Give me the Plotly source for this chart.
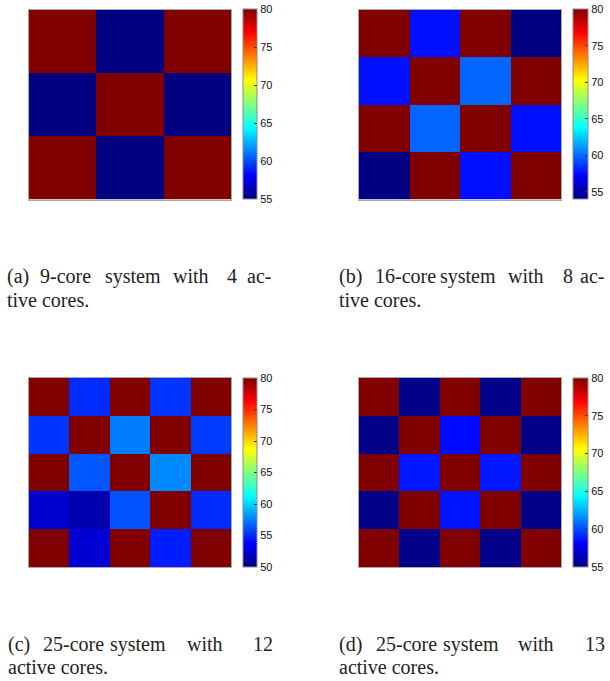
import plotly.graph_objects as go

W, H = 610, 681

# ---- data (temperature maps, rows listed top to bottom) ----
z_a = [[80, 55, 80],
       [55, 80, 55],
       [80, 55, 80]]
z_b = [[80, 57.6, 80, 54.0],
       [57.6, 80, 59.8, 80],
       [80, 59.8, 80, 57.6],
       [54.0, 80, 57.6, 80]]
z_c = [[80, 55.0, 80, 55.3, 80],
       [55.3, 80, 57.4, 80, 55.5],
       [80, 56.3, 80, 57.8, 80],
       [52.3, 51.4, 56.2, 80, 55.0],
       [80, 52.5, 80, 54.6, 80]]
z_d = [[80, 55.2, 80, 55.2, 80],
       [55.2, 80, 58.4, 80, 55.2],
       [80, 58.7, 80, 58.7, 80],
       [55.2, 80, 58.6, 80, 55.2],
       [80, 55.2, 80, 55.2, 80]]
ranges = [(55, 80), (53.95, 80), (50, 80), (55, 80)]
tick_sets = [[55, 60, 65, 70, 75, 80],
             [55, 60, 65, 70, 75, 80],
             [50, 55, 60, 65, 70, 75, 80],
             [55, 60, 65, 70, 75, 80]]

cap_line1 = [["(a)", "9-core", "system", "with", "4", "ac-"],
             ["(b)", "16-core", "system", "with", "8", "ac-"],
             ["(c)", "25-core", "system", "with", "12"],
             ["(d)", "25-core", "system", "with", "13"]]
cap_line2 = ["tive cores.", "tive cores.", "active cores.", "active cores."]

# ---- layout geometry (pixels) ----
jet = [[0.0, "#000080"], [0.125, "#0000ff"], [0.375, "#00ffff"],
       [0.625, "#ffff00"], [0.875, "#ff0000"], [1.0, "#800000"]]

panels = [  # heatmap x0,x1,y0,y1 ; colorbar x0, width
    dict(hx=(29, 231), hy=(9.5, 199.5), cbx=243, cbw=14),
    dict(hx=(359, 561), hy=(9.5, 199.5), cbx=573, cbw=15),
    dict(hx=(29, 231), hy=(378, 567), cbx=243, cbw=14),
    dict(hx=(359, 561), hy=(378, 567), cbx=573, cbw=15),
]
word_x = [[7, 40, 105, 173, 227, 247],
          [339, 375, 440, 508, 563, 580],
          [8, 43, 110, 187, 253],
          [339, 376, 443, 518, 585]]
line2_x = [7, 339, 8, 339]
line_y = [(276, 300), (276, 300), (644, 667), (644, 667)]

CAP_FONT = dict(family="Liberation Serif, serif", size=20, color="#222222")

fig = go.Figure()
zs = [z_a, z_b, z_c, z_d]
layout = {}
annotations = []
for i, (z, p) in enumerate(zip(zs, panels)):
    n = len(z)
    sfx = "" if i == 0 else str(i + 1)
    ca = "coloraxis" + sfx
    fig.add_trace(go.Heatmap(
        z=z, x=list(range(1, n + 1)), y=list(range(1, n + 1)),
        coloraxis=ca, xaxis="x" + sfx, yaxis="y" + sfx,
        xgap=0, ygap=0, hoverinfo="z"))
    x0, x1 = p["hx"]
    y0, y1 = p["hy"]
    axstyle = dict(showgrid=False, zeroline=False, showticklabels=False,
                   ticks="", showline=True, mirror=True,
                   linecolor="#a8a8a8", linewidth=1)
    layout["xaxis" + sfx] = dict(domain=[x0 / W, x1 / W],
                                 range=[0.5, n + 0.5], anchor="y" + sfx,
                                 **axstyle)
    layout["yaxis" + sfx] = dict(domain=[1 - y1 / H, 1 - y0 / H],
                                 range=[n + 0.5, 0.5], anchor="x" + sfx,
                                 **axstyle)
    zmin, zmax = ranges[i]
    layout[ca] = dict(
        cmin=zmin, cmax=zmax, colorscale=jet,
        colorbar=dict(
            x=p["cbx"] / W, xanchor="left", xpad=0,
            y=1 - y0 / H, yanchor="top", ypad=0,
            len=(y1 - y0) / H, lenmode="fraction",
            thickness=p["cbw"], outlinewidth=1, outlinecolor="#8c8c8c",
            tickvals=tick_sets[i], ticks="inside", ticklen=3,
            tickcolor="#333333", tickwidth=1,
            tickfont=dict(family="Liberation Sans, Arial", size=11,
                          color="#111111"),
        ))
    for w, wx in zip(cap_line1[i], word_x[i]):
        annotations.append(dict(
            text=w, x=wx / W, y=1 - line_y[i][0] / H, xref="paper",
            yref="paper", xanchor="left", yanchor="middle", showarrow=False,
            borderpad=0, borderwidth=0, font=CAP_FONT))
    annotations.append(dict(
        text=cap_line2[i], x=line2_x[i] / W, y=1 - line_y[i][1] / H,
        xref="paper", yref="paper", xanchor="left", yanchor="middle",
        showarrow=False, borderpad=0, borderwidth=0, font=CAP_FONT))

fig.update_layout(width=W, height=H, margin=dict(l=0, r=0, t=0, b=0),
                  paper_bgcolor="white", plot_bgcolor="white",
                  showlegend=False, annotations=annotations, **layout)
fig.write_html("out.html", config={"displayModeBar": False},
               post_script="document.body.style.margin='0';"
                           "document.body.style.overflow='hidden';")
